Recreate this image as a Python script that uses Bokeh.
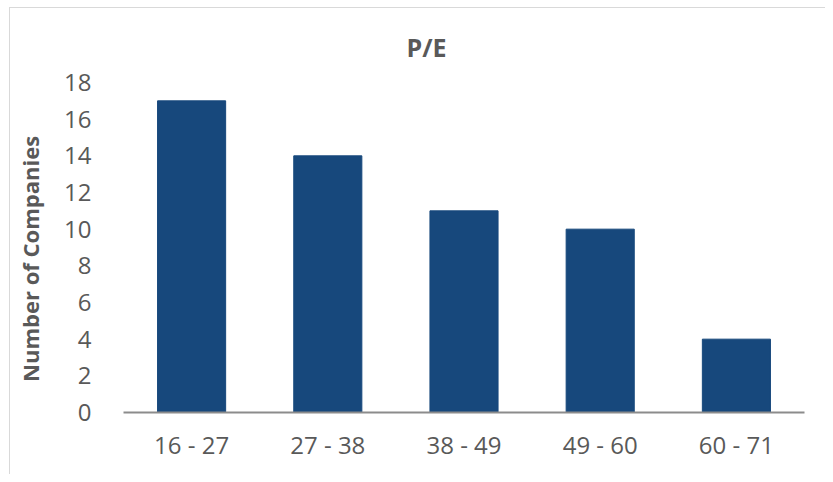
from bokeh.plotting import figure
from bokeh.models import Range1d
from bokeh.embed import file_html
from bokeh.resources import INLINE

categories = ["16 - 27", "27 - 38", "38 - 49", "49 - 60", "60 - 71"]
counts = [17, 14, 11, 10, 4]
y_ticks = [0, 2, 4, 6, 8, 10, 12, 14, 16, 18]

FONT = "Open Sans"
GREY = "#595959"

p = figure(x_range=categories, width=825, height=474, output_backend="svg",
           toolbar_location=None,
           min_border_left=123, min_border_right=21, min_border_top=82,
           min_border_bottom=62)
p.y_range = Range1d(0, 18)
p.x_range.range_padding = 0
p.border_fill_color = None
p.background_fill_color = None

p.vbar(x=categories, top=counts, width=0.5, fill_color="#17487C", line_color="#17487C")

p.styles = {
    "background-color": "white",
    "background-image": "linear-gradient(#d9d9d9, #d9d9d9), linear-gradient(#d9d9d9, #d9d9d9)",
    "background-size": "1px 100%, 100% 1px",
    "background-position": "9px 7px, 9px 7px",
    "background-repeat": "no-repeat",
}

p.title.text = "P/E"
p.title.align = "left"
p.title.offset = 283
p.title.text_font = FONT
p.title.text_font_size = "25px"
p.title.text_font_style = "bold"
p.title.text_color = GREY
p.title.standoff = 38

p.xgrid.grid_line_color = None
p.ygrid.grid_line_color = None
p.outline_line_color = None

p.yaxis.ticker = y_ticks
p.yaxis.axis_line_color = None
p.yaxis.major_tick_line_color = None
p.yaxis.minor_tick_line_color = None
p.yaxis.major_label_text_font = FONT
p.yaxis.major_label_text_font_size = "24px"
p.yaxis.major_label_text_color = GREY
p.yaxis.major_label_standoff = 26
p.yaxis.axis_label = "Number of Companies\u00a0\u00a0\u00a0\u00a0"
p.yaxis.axis_label_text_font = FONT
p.yaxis.axis_label_text_font_size = "22px"
p.yaxis.axis_label_text_font_style = "bold"
p.yaxis.axis_label_text_color = GREY
p.yaxis.axis_label_standoff = 16

p.xaxis.axis_line_color = "#8c8c8c"
p.xaxis.axis_line_width = 2
p.xaxis.major_tick_line_color = None
p.xaxis.minor_tick_line_color = None
p.xaxis.major_label_text_font = FONT
p.xaxis.major_label_text_font_size = "24px"
p.xaxis.major_label_text_color = GREY
p.xaxis.major_label_standoff = 9

open("out.html", "w").write(file_html(p, INLINE))
